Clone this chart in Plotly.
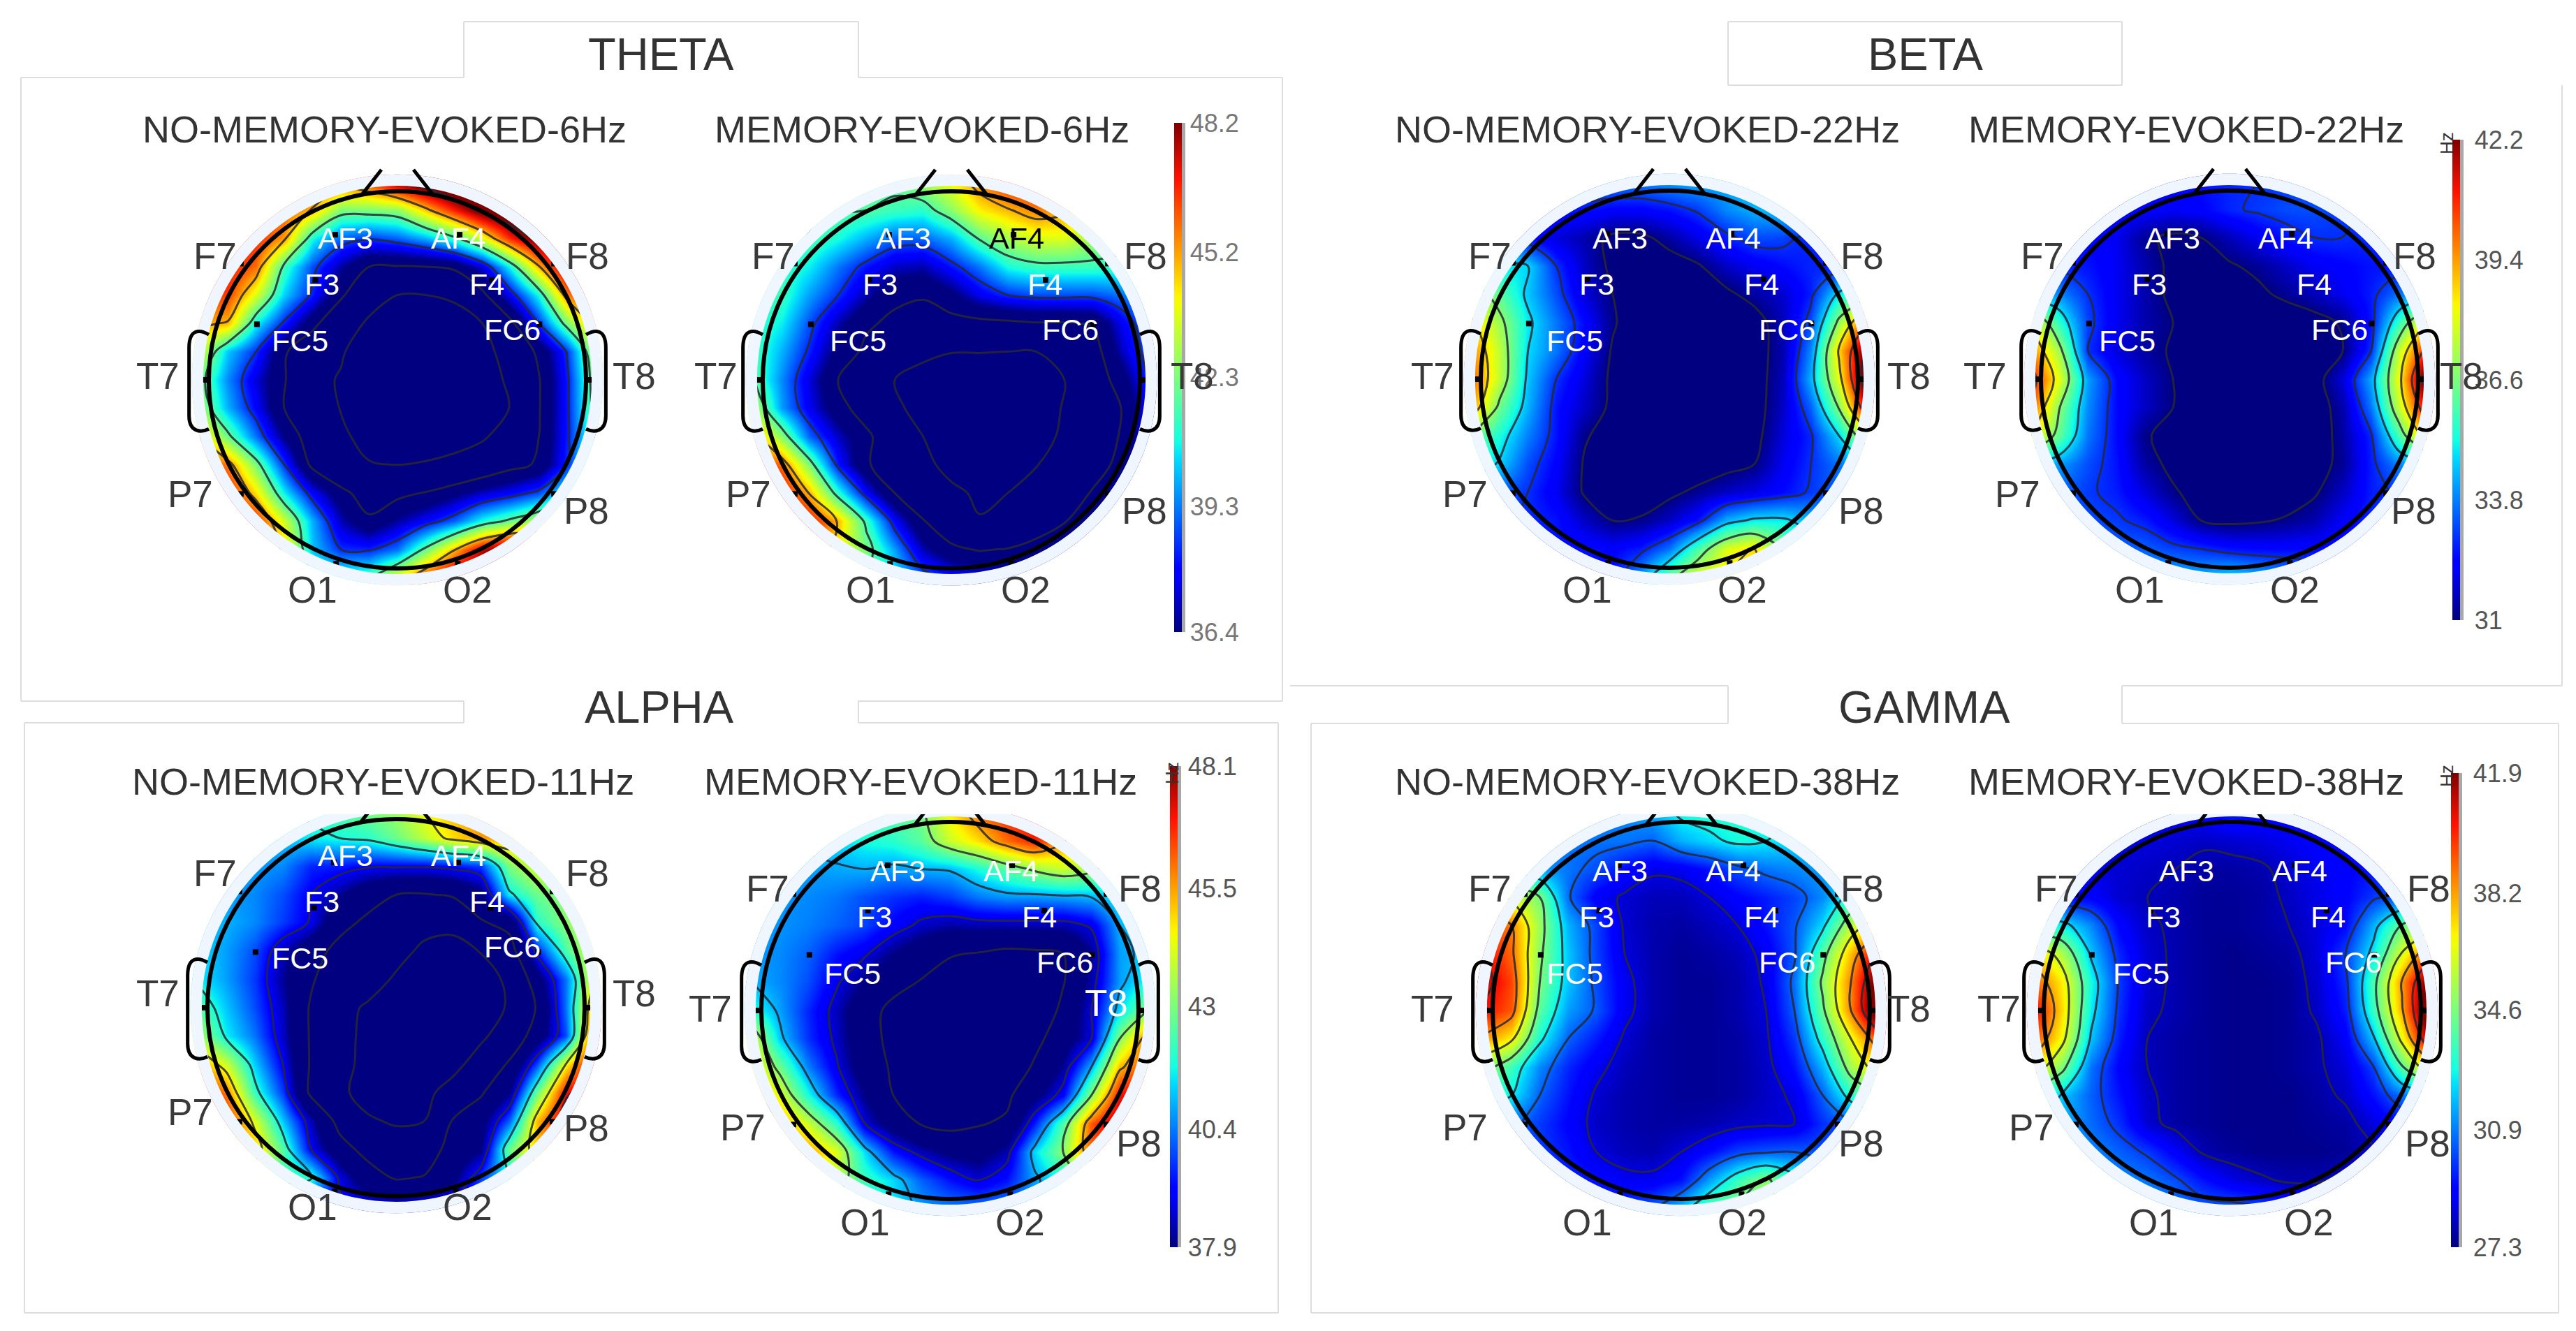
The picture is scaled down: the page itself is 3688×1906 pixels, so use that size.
import plotly.graph_objects as go

W, H = 3688, 1906

# Scalp readings on a 15 x 15 grid, top row first, left column first.
# Each value is the position on that panel's colour bar in percent (0 = bottom tick, 100 = top tick);
# values below 0 are the clipped part of the map, where only the contour lines can be read.
GRID_AXIS = [-1.05, -.9, -.75, -.6, -.45, -.3, -.15, 0, .15, .3, .45, .6, .75, .9, 1.05]

THETA_NO_MEMORY = [
 [90,90,90,90,85,80,85,100,110,120,125,125,125,120,110],
 [90,90,88,82,72,50,50,52,70,88,105,115,120,120,115],
 [95,92,88,75,38,22,18,22,30,42,62,88,105,110,110],
 [90,90,80,42,20,3,-11,-12,-11,-8,8,38,72,100,105],
 [85,85,62,33,15,-8,-30,-39,-39,-35,-15,12,38,78,95],
 [75,72,37,15,-6,-28,-42,-55,-55,-50,-39,-15,17,50,75],
 [62,32,17,-9,-25,-35,-60,-70,-70,-65,-50,-25,-8,18,58],
 [50,26,8,-10,-28,-42,-65,-75,-75,-70,-55,-33,-12,15,52],
 [55,30,12,-11,-26,-40,-60,-70,-72,-70,-55,-38,-12,15,50],
 [72,48,24,0,-20,-33,-50,-56,-52,-48,-42,-28,-11,15,45],
 [88,78,50,17,-15,-30,-37,-39,-37,-33,-25,-16,-9,17,50],
 [95,90,68,36,12,-6,-20,-15,-10,-2,6,12,20,40,60],
 [95,95,88,60,30,5,-8,3,12,22,38,48,58,72,80],
 [90,90,90,70,32,17,16,24,48,72,95,105,100,90,85],
 [90,90,90,60,45,40,45,65,85,100,105,110,100,90,85],
]
THETA_MEMORY = [
 [50,50,50,50,48,48,55,65,78,88,92,92,85,70,60],
 [50,48,48,46,45,42,40,52,66,72,78,75,66,60,55],
 [48,46,44,38,30,22,22,30,46,56,62,62,55,52,50],
 [46,42,36,24,14,6,4,14,24,38,42,42,42,40,38],
 [44,42,28,17,4,-8,-10,-2,10,17,20,20,20,24,30],
 [42,36,20,4,-9,-14,-16,-16,-15,-14,-12,-12,-10,10,25],
 [44,30,15,-3,-14,-25,-32,-38,-38,-39,-39,-32,-18,5,22],
 [46,26,8,-11,-24,-39,-50,-58,-60,-58,-50,-39,-20,-5,18],
 [58,28,10,-6,-18,-33,-50,-60,-65,-62,-52,-37,-18,-11,12],
 [75,52,22,6,-8,-22,-39,-52,-60,-58,-48,-35,-20,-10,14],
 [90,80,50,14,-9,-22,-34,-45,-50,-48,-40,-28,-16,-8,14],
 [100,92,72,40,12,-11,-22,-35,-42,-39,-28,-18,-10,12,20],
 [100,100,90,72,42,12,-10,-22,-38,-32,-22,-12,2,18,20],
 [90,90,90,65,50,28,5,-8,-12,-10,-4,5,15,20,20],
 [80,80,70,55,45,36,22,15,10,10,12,15,20,20,20],
]
BETA_NO_MEMORY = [
 [25,25,25,25,25,25,25,28,30,30,32,32,30,28,25],
 [16,16,16,15,14,12,12,14,18,26,30,32,30,26,24],
 [28,20,13,8,4,-2,-2,3,9,15,20,19,15,14,14],
 [42,36,34,17,6,-2,-6,-4,-1,6,10,13,16,14,14],
 [58,46,32,20,8,0,-6,-8,-6,-2,3,7,15,36,48],
 [70,54,36,24,13,1,-6,-10,-10,-8,-4,5,20,54,85],
 [78,58,34,24,11,-1,-8,-10,-10,-8,-4,4,26,70,105],
 [82,58,32,17,8,-2,-8,-10,-10,-8,-4,5,30,64,112],
 [76,48,30,14,6,-2,-8,-10,-10,-8,-4,6,22,52,95],
 [50,38,25,14,1,-4,-8,-10,-10,-8,-3,8,16,34,62],
 [40,33,20,12,-1,-5,-8,-8,-6,-3,0,10,17,24,35],
 [28,22,17,10,-1,-5,-5,-2,2,6,9,13,18,22,25],
 [20,18,16,14,6,0,1,6,14,30,36,36,30,25,22],
 [14,14,14,14,14,12,15,24,44,62,68,50,38,30,25],
 [14,14,14,14,14,14,28,48,62,68,70,55,40,30,25],
]
BETA_MEMORY = [
 [14,14,14,14,14,14,14,16,17,18,18,18,17,16,16],
 [12,12,12,12,12,11,12,16,18,20,20,18,16,14,14],
 [14,14,12,10,2,-2,0,5,10,14,17,17,16,14,14],
 [18,16,14,10,4,-2,-3,-1,2,6,10,12,14,14,15],
 [32,26,17,10,4,-2,-4,-5,-2,2,5,10,15,24,32],
 [65,40,19,10,4,0,-5,-8,-8,-6,-3,1,14,42,70],
 [78,54,17,8,3,-1,-6,-8,-9,-8,-5,0,17,60,90],
 [90,62,28,13,6,0,-6,-8,-9,-8,-4,8,29,65,110],
 [82,51,26,13,6,0,-6,-8,-9,-8,-5,4,24,60,95],
 [68,46,24,13,1,-3,-6,-8,-9,-8,-5,3,16,44,75],
 [34,28,20,14,3,-2,-5,-7,-8,-8,-3,2,15,26,34],
 [24,22,18,15,8,1,-3,-5,-6,-5,-1,6,15,18,20],
 [24,22,20,18,15,8,0,-2,-1,1,4,11,16,16,16],
 [28,26,24,22,22,19,17,14,13,13,13,14,15,15,15],
 [30,30,30,30,30,30,30,34,30,26,22,18,15,15,15],
]
ALPHA_NO_MEMORY = [
 [38,38,38,38,40,45,50,55,65,72,78,78,72,65,60],
 [30,30,30,32,36,38,40,48,58,68,75,75,68,60,55],
 [28,28,28,26,16,15,12,12,12,14,18,50,62,55,50],
 [30,28,26,20,11,2,-8,-16,-17,-14,-3,36,48,52,48],
 [32,30,26,18,10,-10,-20,-30,-38,-36,-18,-10,40,52,60],
 [34,28,20,5,-8,-22,-32,-38,-46,-52,-42,-25,15,44,62],
 [36,28,18,2,-14,-28,-36,-45,-55,-60,-55,-38,-5,24,65],
 [46,32,20,5,-18,-38,-45,-55,-60,-65,-58,-40,-14,24,76],
 [56,36,24,6,-18,-36,-48,-58,-62,-62,-48,-28,-8,20,85],
 [76,60,33,11,-18,-35,-50,-60,-60,-52,-30,-14,20,65,95],
 [92,78,42,18,-20,-38,-52,-55,-50,-32,-18,0,48,90,100],
 [95,88,62,32,5,-22,-40,-46,-43,-15,-5,22,72,98,100],
 [92,88,72,45,11,-9,-22,-30,-28,-8,-1,48,72,92,92],
 [70,60,55,45,40,9,-8,-18,-15,-3,18,38,60,70,75],
 [30,25,20,18,16,13,10,9,10,14,25,35,50,60,65],
]
ALPHA_MEMORY = [
 [40,40,40,42,44,46,50,66,80,88,92,85,70,55,45],
 [32,32,32,34,38,40,46,60,68,80,88,75,66,55,45],
 [28,28,28,29,30,28,30,31,38,46,54,60,55,42,38],
 [28,27,26,24,20,17,15,18,24,27,27,28,30,36,38],
 [28,27,25,22,19,12,6,3,4,4,4,4,9,30,34],
 [28,26,22,14,9,0,-7,-13,-15,-18,-17,-14,1,28,32],
 [30,26,20,9,0,-9,-15,-20,-25,-28,-28,-15,4,28,38],
 [40,28,16,5,-8,-18,-25,-30,-35,-35,-28,-10,8,34,52],
 [62,32,17,6,-8,-18,-28,-36,-38,-30,-18,-6,8,52,80],
 [68,48,25,9,-6,-16,-28,-36,-36,-25,-12,2,30,72,85],
 [78,62,38,16,0,-14,-26,-32,-30,-17,-3,12,52,90,95],
 [85,75,60,40,8,-5,-15,-18,-15,-12,15,45,82,100,100],
 [85,80,75,62,34,14,5,-2,-4,4,34,52,82,90,90],
 [75,70,65,58,42,34,22,14,8,14,28,38,60,70,70],
 [50,50,45,45,40,35,28,25,25,26,30,38,50,60,60],
]
GAMMA_NO_MEMORY = [
 [25,25,25,25,25,26,30,38,40,40,38,36,34,32,30],
 [24,24,24,24,24,24,22,30,34,38,36,34,32,30,30],
 [40,32,28,24,20,13,9,10,14,20,24,26,28,28,28],
 [70,62,50,23,11,7,5,5,8,12,15,19,26,40,45],
 [88,78,54,30,19,7,4,3,5,8,14,21,34,58,72],
 [92,80,52,32,19,8,4,2,3,5,10,21,46,72,96],
 [96,84,50,32,20,10,4,2,2,4,9,24,52,78,108],
 [90,82,46,28,21,10,4,2,2,4,8,22,48,78,112],
 [76,66,38,22,15,7,3,2,2,3,7,18,40,64,85],
 [55,42,26,16,10,5,3,2,2,3,6,14,30,55,70],
 [40,36,22,14,7,4,3,2,2,3,6,9,22,40,50],
 [28,24,18,12,6,4,3,3,4,6,7,8,17,22,28],
 [22,20,18,14,8,5,4,8,13,19,21,22,20,18,20],
 [18,18,18,16,14,10,10,14,28,42,52,40,26,20,20],
 [18,18,18,18,18,18,22,32,46,52,55,40,26,20,20],
]
GAMMA_MEMORY = [
 [10,10,10,10,10,10,12,16,14,12,12,12,12,12,12],
 [8,8,8,8,8,7,6,7,8,10,12,13,13,13,13],
 [10,10,9,7,6,5,3,3,4,7,10,12,14,14,14],
 [14,13,12,7,5,4,2,2,3,6,9,12,18,22,24],
 [40,36,26,12,6,4,2,2,3,5,8,13,30,48,55],
 [70,56,32,16,7,4,2,1,2,3,8,19,36,62,85],
 [82,66,38,18,7,4,2,1,1,2,7,17,44,76,105],
 [92,68,36,17,6,4,2,1,1,2,6,15,42,74,112],
 [84,64,32,15,5,3,2,1,1,2,4,11,32,64,100],
 [68,50,24,12,5,3,2,1,1,2,4,8,19,46,70],
 [42,32,22,14,6,3,2,1,1,1,3,6,14,24,30],
 [32,30,23,17,7,3,2,1,1,1,2,3,8,13,15],
 [30,28,26,22,18,11,4,2,1,1,1,2,5,12,14],
 [28,28,27,26,24,20,14,9,6,4,4,7,11,12,13],
 [26,26,26,26,26,24,22,22,20,16,15,14,13,13,13],
]

THETA_TICKS = [36.4, 39.3, 42.3, 45.2, 48.2]
BETA_TICKS = [31, 33.8, 36.6, 39.4, 42.2]
ALPHA_TICKS = [37.9, 40.4, 43, 45.5, 48.1]
GAMMA_TICKS = [27.3, 30.9, 34.6, 38.2, 41.9]

ELECTRODE_X = [-.33, .33, -.435, .5, -.83, .83, -.745, .753, -1.02, 1.02, -.83, .83, -.325, .32]
ELECTRODE_Y = [.77, .77, .53, .53, .617, .617, .295, .295, 0, 0, -.605, -.605, -.975, -.975]

JET = [[0, "#000080"], [.11, "#0000ff"], [.125, "#0000ff"], [.34, "#00dbff"], [.375, "#14ffe2"],
       [.64, "#eeff07"], [.66, "#fff500"], [.89, "#ff1300"], [1, "#800000"]]

# label offsets in px from a panel's label origin
LABELS = {"AF3": (-74, -202), "AF4": (88, -202), "F3": (-107, -136), "F4": (129, -136),
          "FC5": (-139, -55), "FC6": (165, -71), "F7": (-260, -177), "F8": (273, -177),
          "T7": (-342, -5), "T8": (340, -5), "P7": (-296, 165), "P8": (271, 188),
          "O1": (-121, 301), "O2": (101, 301)}
WHITE = {"AF3", "AF4", "F3", "F4", "FC5", "FC6"}

PANELS = [
 dict(z=THETA_NO_MEMORY, ticks=THETA_TICKS, cx=569, cy=544, lab=(568, 543), title="NO-MEMORY-EVOKED-6Hz", tx=550, ty=185, lv=(-39, 28)),
 dict(z=THETA_MEMORY, ticks=THETA_TICKS, cx=1362, cy=544, lab=(1367, 543), title="MEMORY-EVOKED-6Hz", tx=1320, ty=185, lv=(-39, 28), black={"AF4"},
      bar=(1681, 11, 176, 905, 5, "#777777")),
 dict(z=BETA_NO_MEMORY, ticks=BETA_TICKS, cx=2390, cy=543, lab=(2393, 543), title="NO-MEMORY-EVOKED-22Hz", tx=2358, ty=185, lv=(0, 17)),
 dict(z=BETA_MEMORY, ticks=BETA_TICKS, cx=3192, cy=543, lab=(3184, 543), title="MEMORY-EVOKED-22Hz", tx=3130, ty=185, lv=(0, 17),
      bar=(3511, 11, 200, 888, 14, "#555555")),
 dict(z=ALPHA_NO_MEMORY, ticks=ALPHA_TICKS, cx=567, cy=1443, lab=(568, 1427), title="NO-MEMORY-EVOKED-11Hz", tx=548, ty=1119, lv=(-43, 27), clip=1166),
 dict(z=ALPHA_MEMORY, ticks=ALPHA_TICKS, cx=1360, cy=1447, lab=(1359, 1449), title="MEMORY-EVOKED-11Hz", tx=1318, ty=1119, lv=(-14, 22), clip=1166,
      moved={"T8": (1584, 1436)}, bar=(1675, 11, 1097, 1786, 8, "#555555")),
 dict(z=GAMMA_NO_MEMORY, ticks=GAMMA_TICKS, cx=2407, cy=1447, lab=(2393, 1449), title="NO-MEMORY-EVOKED-38Hz", tx=2358, ty=1119, lv=(8, 14), clip=1166),
 dict(z=GAMMA_MEMORY, ticks=GAMMA_TICKS, cx=3196, cy=1447, lab=(3204, 1449), title="MEMORY-EVOKED-38Hz", tx=3130, ty=1119, lv=(5, 14), clip=1166, hide={"T8"},
      bar=(3509, 11, 1107, 1786, 14, "#555555")),
]

BAND_TITLES = [("THETA", 946, 78), ("BETA", 2757, 78), ("ALPHA", 944, 1012), ("GAMMA", 2755, 1012)]
FRAME_LINES = [
 (30, 111, 664, 111), (664, 111, 664, 31), (664, 31, 1229, 31), (1229, 31, 1229, 111), (1229, 111, 1836, 111),
 (1836, 111, 1836, 1004), (30, 111, 30, 1004), (30, 1004, 664, 1004), (1229, 1004, 1836, 1004),
 (2474, 31, 3038, 31), (2474, 122, 3038, 122), (2474, 31, 2474, 122), (3038, 31, 3038, 122), (3668, 122, 3668, 982),
 (1847, 982, 2474, 982), (3038, 982, 3668, 982),
 (35, 1035, 664, 1035), (1229, 1035, 1830, 1035), (664, 1004, 664, 1035), (1229, 1004, 1229, 1035), (35, 1035, 35, 1880),
 (1830, 1035, 1830, 1880), (35, 1880, 1830, 1880),
 (1877, 1036, 2474, 1036), (3038, 1036, 3663, 1036), (2474, 982, 2474, 1036), (3038, 982, 3038, 1036),
 (1877, 1036, 1877, 1880), (3663, 1036, 3663, 1880), (1877, 1880, 3663, 1880),
]

K = 0.5523
R_PX = 270
EXT = 1.2


def circle(r):
    k = K * r
    return (f"M {-r} 0 C {-r} {k} {-k} {r} 0 {r} C {k} {r} {r} {k} {r} 0 "
            f"C {r} {-k} {k} {-r} 0 {-r} C {-k} {-r} {-r} {-k} {-r} 0 Z ")


fx = lambda px: px / W
fy = lambda py: 1 - py / H


def label(text, x, y, size, color, angle=0):
    return dict(text=text, x=fx(x), y=fy(y), xref="paper", yref="paper", showarrow=False, textangle=angle,
                xanchor="center", yanchor="middle", font=dict(family="Liberation Sans", size=size, color=color))


fig = go.Figure()
shapes, annotations = [], []
layout = {}

for i, p in enumerate(PANELS, start=1):
    sx = "" if i == 1 else str(i)
    vmin, vmax = p["ticks"][0], p["ticks"][-1]
    span = vmax - vmin
    z = [[round(vmin + v / 100 * span, 2) for v in row] for row in p["z"]]
    ys = GRID_AXIS[::-1]
    axx, axy = f"x{sx}", f"y{sx}"
    cx, cy = p["cx"], p["cy"]
    layout[f"xaxis{sx}"] = dict(domain=[fx(cx - EXT * R_PX), fx(cx + EXT * R_PX)], range=[-EXT, EXT], visible=False,
                                anchor=axy, fixedrange=True)
    layout[f"yaxis{sx}"] = dict(domain=[fy(cy + EXT * R_PX), fy(cy - EXT * R_PX)], range=[-EXT, EXT], visible=False,
                                anchor=axx, fixedrange=True)
    hm = dict(z=z, x=GRID_AXIS, y=ys, xaxis=axx, yaxis=axy, colorscale=JET, zmin=vmin, zmax=vmax,
              zsmooth="best", hoverinfo="skip", showscale=False)
    if "bar" in p:
        bx, bw, by0, by1, tl, tc = p["bar"]
        hm.update(showscale=True, colorbar=dict(
            x=fx(bx), xanchor="left", xpad=0, ypad=0, y=fy((by0 + by1) / 2), yanchor="middle",
            len=(by1 - by0) / H, lenmode="fraction", thickness=bw, thicknessmode="pixels", outlinewidth=0,
            tickmode="array", tickvals=p["ticks"], ticktext=[str(t) for t in p["ticks"]],
            ticks="outside", ticklen=tl, tickcolor="rgba(0,0,0,0)",
            tickfont=dict(family="Liberation Sans", size=36, color=tc)))
        shapes.append(dict(type="rect", xref="paper", yref="paper", x0=fx(bx + bw), x1=fx(bx + bw + 5), y0=fy(by0), y1=fy(by1),
                           fillcolor="#a8a8a8", line_width=0, layer="above"))
    fig.add_trace(go.Heatmap(**hm))
    start, size = p["lv"]
    fig.add_trace(go.Contour(z=z, x=GRID_AXIS, y=ys, xaxis=axx, yaxis=axy, showscale=False, hoverinfo="skip",
                             autocontour=False, contours=dict(coloring="none", start=vmin + start / 100 * span,
                                                              end=vmin + (start + 6 * size) / 100 * span,
                                                              size=size / 100 * span),
                             line=dict(color="rgba(40,40,50,0.85)", width=3, smoothing=1.0)))
    fig.add_trace(go.Scatter(x=ELECTRODE_X, y=ELECTRODE_Y, xaxis=axx, yaxis=axy, mode="markers", hoverinfo="skip",
                             marker=dict(color="black", size=8, symbol="square"), showlegend=False))
    e = f"M {-EXT} {-EXT} L {EXT} {-EXT} L {EXT} {EXT} L {-EXT} {EXT} Z " + circle(1.09)
    refs = dict(xref=axx, yref=axy, layer="above")
    shapes.append(dict(type="path", path=e, fillcolor="white", line_width=0, **refs))
    shapes.append(dict(type="path", path=circle(1.09) + circle(1.03), fillcolor="#f0f6ff", line_width=0, **refs))
    shapes.append(dict(type="path", path=circle(1.0), line=dict(color="black", width=6), fillcolor="rgba(0,0,0,0)", **refs))
    for s in (-1, 1):
        shapes.append(dict(type="path", line=dict(color="black", width=5), fillcolor="rgba(0,0,0,0)",
                           path=f"M {s*.19} .98 L {s*.085} 1.115", **refs))
        shapes.append(dict(type="path", line=dict(color="black", width=5), fillcolor="rgba(0,0,0,0)",
                           path=f"M {s*1.0} .24 C {s*1.05} .27 {s*1.105} .27 {s*1.105} .17 L {s*1.105} -.19 "
                                f"C {s*1.105} -.28 {s*1.04} -.28 {s*1.0} -.26", **refs))
    if "clip" in p:
        shapes.append(dict(type="rect", xref="paper", yref="paper", x0=fx(cx - 320), x1=fx(cx + 320),
                           y0=fy(p["clip"] - 36), y1=fy(p["clip"]), fillcolor="white", line_width=0, layer="above"))
    ox, oy = p["lab"]
    for name, (dx, dy) in LABELS.items():
        if name in p.get("hide", ()):
            continue
        col = "white" if name in WHITE else "#3a3a3a"
        if name in p.get("black", ()):
            col = "black"
        x, y = ox + dx, oy + dy
        if name in p.get("moved", {}):
            x, y = p["moved"][name]
            col = "white"
        annotations.append(label(name, x, y, 43 if name in WHITE else 53, col))
    annotations.append(label(p["title"], p["tx"], p["ty"], 54, "#333333"))

for x0, y0, x1, y1 in FRAME_LINES:
    shapes.append(dict(type="line", xref="paper", yref="paper", x0=fx(x0), x1=fx(x1), y0=fy(y0), y1=fy(y1),
                       line=dict(color="#dddddd", width=2), layer="below"))
for text, x, y in BAND_TITLES:
    annotations.append(label(text, x, y, 65, "#333333"))
for x, y in [(3503, 205), (3503, 1111), (1678, 1107)]:
    annotations.append(label("Hz", x, y, 26, "#333333", -90))

fig.update_layout(width=W, height=H, margin=dict(l=0, r=0, t=0, b=0), paper_bgcolor="white", plot_bgcolor="white",
                  showlegend=False, shapes=shapes, annotations=annotations, **layout)
fig.write_html("out.html", config=dict(displayModeBar=False),
               post_script="document.body.style.margin='0';document.body.style.overflow='hidden';")
